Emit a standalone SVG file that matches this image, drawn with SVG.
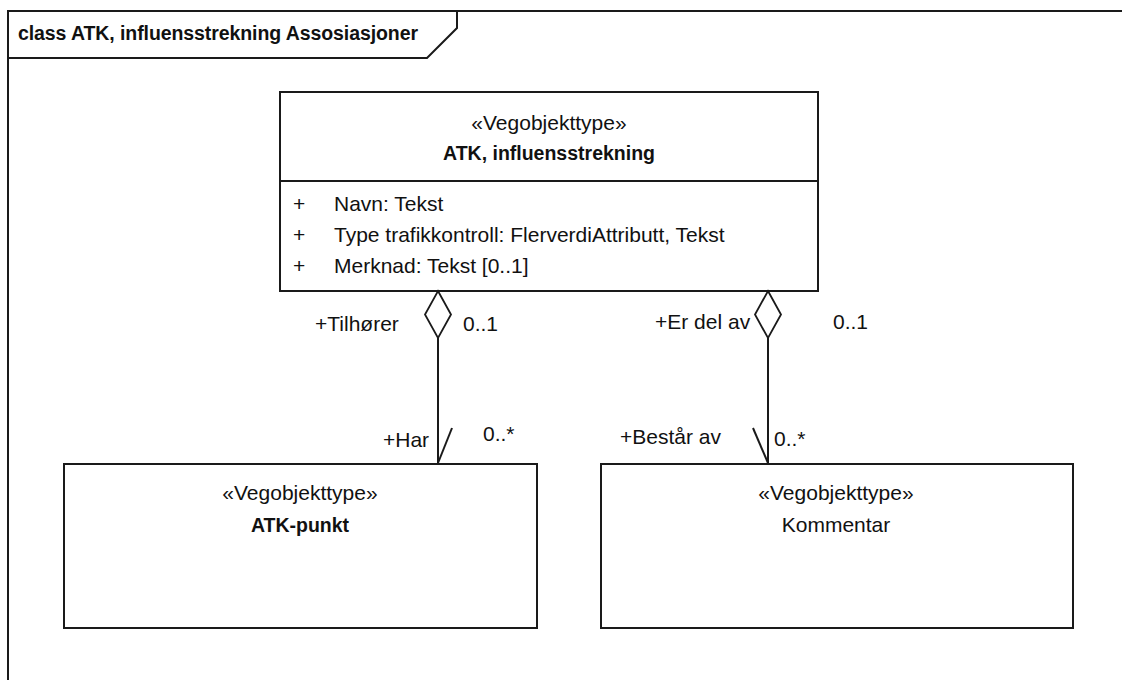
<svg xmlns="http://www.w3.org/2000/svg" width="1122" height="680" viewBox="0 0 1122 680">
<style>
  .box { fill: #ffffff; stroke: #1a1a1a; stroke-width: 2; }
  .ln { fill: none; stroke: #1a1a1a; stroke-width: 2; }
  .dia { fill: #ffffff; stroke: #1a1a1a; stroke-width: 1.8; }
  text { font-family: "Liberation Sans", Arial, sans-serif; fill: #111111; }
  .t { font-size: 21px; }
  .b { font-size: 19.5px; font-weight: bold; }
  .c { text-anchor: middle; }
</style>
<rect x="0" y="0" width="1122" height="680" fill="#ffffff"/>
<g id="frame">
  <path class="ln" d="M1122,11 H8 V680"/>
  <path class="ln" d="M8,58 H427 L457,28 V11"/>
  <text class="b" x="18" y="40" textLength="400">class ATK, influensstrekning Assosiasjoner</text>
</g>
<g id="atk-influensstrekning">
  <rect class="box" x="280" y="92" width="538" height="199"/>
  <line class="ln" x1="280" y1="181" x2="818" y2="181"/>
  <text class="t c" x="549" y="130">«Vegobjekttype»</text>
  <text class="b c" x="549" y="160">ATK, influensstrekning</text>
  <text class="t" x="293" y="211">+</text>
  <text class="t" x="334" y="211">Navn: Tekst</text>
  <text class="t" x="293" y="242">+</text>
  <text class="t" x="334" y="242">Type trafikkontroll: FlerverdiAttributt, Tekst</text>
  <text class="t" x="293" y="273">+</text>
  <text class="t" x="334" y="273">Merknad: Tekst [0..1]</text>
</g>
<g id="atk-punkt">
  <rect class="box" x="64" y="464" width="473" height="164"/>
  <text class="t c" x="300" y="500">«Vegobjekttype»</text>
  <text class="b c" x="300" y="532">ATK-punkt</text>
</g>
<g id="kommentar">
  <rect class="box" x="601" y="464" width="472" height="164"/>
  <text class="t c" x="836" y="500">«Vegobjekttype»</text>
  <text class="t c" x="836" y="532">Kommentar</text>
</g>
<g id="connectors">
  <line class="ln" x1="438" y1="338" x2="438" y2="464"/>
  <path class="dia" d="M438,291 L451,314.5 L438,338 L425,314.5 Z"/>
  <line class="ln" x1="452" y1="428" x2="438" y2="463"/>
  <text class="t" x="315" y="331">+Tilhører</text>
  <text class="t" x="463" y="331">0..1</text>
  <text class="t" x="383" y="447">+Har</text>
  <text class="t" x="483" y="441">0..*</text>

  <line class="ln" x1="768" y1="338" x2="768" y2="464"/>
  <path class="dia" d="M768,291 L781,314.5 L768,338 L755,314.5 Z"/>
  <line class="ln" x1="753" y1="428" x2="768" y2="463"/>
  <text class="t" x="655" y="329">+Er del av</text>
  <text class="t" x="833" y="329">0..1</text>
  <text class="t" x="620" y="444">+Består av</text>
  <text class="t" x="774" y="446">0..*</text>
</g>
</svg>
